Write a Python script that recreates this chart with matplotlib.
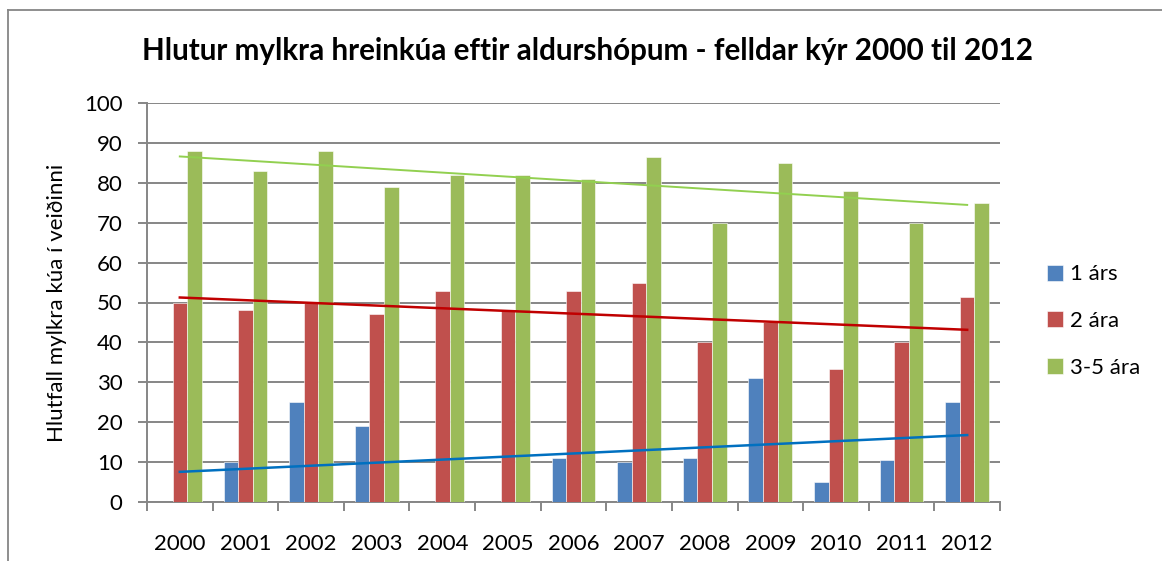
import matplotlib.pyplot as plt
import numpy as np
from matplotlib.lines import Line2D

# Data
years = [2000, 2001, 2002, 2003, 2004, 2005, 2006, 2007, 2008, 2009, 2010, 2011, 2012]
one_year = [0, 10, 25, 19, 0, 0, 11, 10, 11, 31, 4.9, 10.5, 25]
two_years = [50, 48, 50, 47, 53, 48, 53, 54.8, 40, 45, 33.3, 40, 51.5]
three_five_years = [88, 83, 88, 79, 82, 82, 81, 86.5, 70, 85, 78, 70, 75]

series_names = ["1 árs", "2 ára", "3-5 ára"]
bar_colors = ["#4F81BD", "#C0504D", "#9BBB59"]
trend_colors = ["#0070C0", "#C00000", "#92D050"]

FONT = ["Lato", "DejaVu Sans"]
plt.rcParams["font.family"] = FONT
GRAY = "#868686"
FS = 16

fig = plt.figure(figsize=(11.62, 5.61), dpi=100)
ax = fig.add_axes([147 / 1162, 1 - 501.7 / 561, 853 / 1162, 398.4 / 561])

x = np.arange(len(years))
bar_w = 1 / 4.5
all_series = [one_year, two_years, three_five_years]
for i, (vals, col) in enumerate(zip(all_series, bar_colors)):
    ax.bar(x + (i - 1) * bar_w, vals, width=bar_w, color=col,
           edgecolor="white", linewidth=0.4, zorder=3)

# linear trend lines, like Excel's
for vals, col in zip(all_series, trend_colors):
    k, m = np.polyfit(x, vals, 1)
    lw = 1.4 if col == "#92D050" else 1.8
    ax.plot([x[0], x[-1]], [k * x[0] + m, k * x[-1] + m], color=col, lw=lw, zorder=4)

ax.set_xlim(-0.5, len(years) - 0.5)
ax.set_ylim(0, 100)
ax.set_yticks(range(0, 101, 10))
ax.yaxis.grid(True, color=GRAY, lw=1.4, zorder=0)
ax.set_axisbelow(True)

ax.set_xticks(x)
ax.set_xticklabels([str(y) for y in years])
ax.set_xticks(np.arange(-0.5, len(years)), minor=True)
ax.tick_params(axis="x", which="major", length=0, pad=23, labelsize=FS)
ax.tick_params(axis="x", which="minor", length=6.5, width=1.4, color=GRAY)
ax.tick_params(axis="y", length=6.5, width=1.4, color=GRAY, pad=11, labelsize=FS)

for side in ["top", "right"]:
    ax.spines[side].set_visible(False)
for side in ["left", "bottom"]:
    ax.spines[side].set_color(GRAY)
    ax.spines[side].set_linewidth(1.4)

ax.set_ylabel("Hlutfall mylkra kúa í veiðinni", fontsize=FS, labelpad=12)

fig.text(588 / 1162, 1 - 51 / 561,
         "Hlutur mylkra hreinkúa eftir aldurshópum - felldar kýr 2000 til 2012",
         ha="center", va="center", fontsize=21.3, fontweight="bold")

handles = [Line2D([], [], ls="none", marker="s", markersize=11.5,
                  markerfacecolor=c, markeredgecolor="white", markeredgewidth=0.4)
           for c in bar_colors]
fig.legend(handles, series_names, loc="center left",
           bbox_to_anchor=(1026 / 1162, 1 - 321 / 561), frameon=False,
           fontsize=FS, handlelength=0.8, handletextpad=0.3, labelspacing=1.2)

# chart area border (cut off at right and bottom in the reference)
fig.add_artist(Line2D([8 / 1162, 1], [1 - 10 / 561] * 2, color=GRAY, lw=1.3))
fig.add_artist(Line2D([8 / 1162] * 2, [0, 1 - 10 / 561], color=GRAY, lw=1.3))

fig.savefig("out.png", dpi=100)
